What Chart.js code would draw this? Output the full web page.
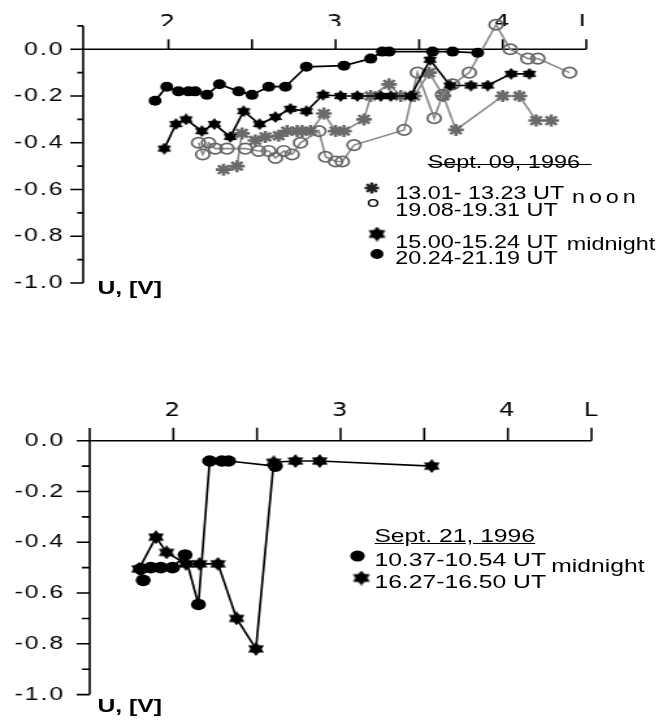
<!DOCTYPE html>
<html>
<head>
<meta charset="utf-8">
<script src="https://cdn.jsdelivr.net/npm/chart.js@4.4.0/dist/chart.umd.min.js"></script>
<style>
html, body { margin: 0; padding: 0; background: #fff; overflow: hidden; }
#wrap { position: absolute; left: 0; top: 0; width: 513px; height: 725px; transform: scaleX(1.3); transform-origin: 0 0; }
canvas { position: absolute; left: 0; }
.t { position: absolute; font-family: 'Liberation Sans', Arial, sans-serif; font-size: 18px; line-height: 18px; white-space: nowrap; color: #000; }
.b { font-size: 19px; line-height: 19px; }
.lab { font-weight: bold; font-size: 19px; }
</style>
</head>
<body>
<div id="wrap">
  <canvas id="topChart" width="513" height="320" style="top:0;width:513px;height:320px"></canvas>
  <canvas id="botChart" width="513" height="365" style="top:360px;width:513px;height:365px"></canvas>

  <div class="t lab" style="left:75px;top:279px">U, [V]</div>
  <div class="t" style="left:329px;top:153px">Sept. 09, 1996</div>
  <div style="position:absolute;left:329px;top:164px;width:126px;border-top:1.5px solid #000"></div>
  <div class="t" style="left:304px;top:184px">13.01- 13.23 UT</div>
  <div class="t" style="left:440px;top:188px;letter-spacing:3px">noon</div>
  <div class="t" style="left:304px;top:201px">19.08-19.31 UT</div>
  <div class="t" style="left:304px;top:233px">15.00-15.24 UT</div>
  <div class="t" style="left:436px;top:235px">midnight</div>
  <div class="t" style="left:304px;top:249px">20.24-21.19 UT</div>

  <div class="t lab" style="left:75px;top:697px">U, [V]</div>
  <div class="t b" style="left:288px;top:526px;text-decoration:underline">Sept. 21, 1996</div>
  <div class="t b" style="left:288px;top:550px">10.37-10.54 UT</div>
  <div class="t b" style="left:424px;top:556px">midnight</div>
  <div class="t b" style="left:288px;top:572px">16.27-16.50 UT</div>
</div>

<script>
// Sept. 09, 1996
let noonStarL = [2.33, 2.41, 2.44, 2.52, 2.58, 2.66, 2.71, 2.77, 2.80, 2.85, 2.93, 3.00, 3.05, 3.17, 3.21, 3.32, 3.39, 3.47, 3.56, 3.645, 3.72, 4.00, 4.10, 4.20, 4.29];
let noonStarU = [-0.515, -0.50, -0.36, -0.39, -0.375, -0.37, -0.35, -0.35, -0.35, -0.35, -0.275, -0.35, -0.35, -0.30, -0.20, -0.15, -0.20, -0.20, -0.10, -0.20, -0.345, -0.20, -0.20, -0.305, -0.305];

let noonCircL = [2.18, 2.205, 2.24, 2.28, 2.35, 2.46, 2.54, 2.60, 2.64, 2.69, 2.74, 2.79, 2.90, 2.94, 3.00, 3.04, 3.11, 3.41, 3.49, 3.59, 3.64, 3.70, 3.80, 3.96, 4.045, 4.15, 4.21, 4.40];
let noonCircU = [-0.40, -0.45, -0.40, -0.425, -0.425, -0.425, -0.435, -0.435, -0.465, -0.435, -0.45, -0.40, -0.35, -0.46, -0.48, -0.48, -0.41, -0.345, -0.10, -0.295, -0.195, -0.15, -0.10, 0.105, 0.0, -0.04, -0.04, -0.10];

let midStarL = [1.975, 2.045, 2.105, 2.20, 2.275, 2.37, 2.45, 2.545, 2.64, 2.73, 2.825, 2.925, 3.03, 3.13, 3.27, 3.33, 3.45, 3.565, 3.685, 3.81, 3.91, 4.05, 4.16];
let midStarU = [-0.425, -0.32, -0.30, -0.35, -0.32, -0.375, -0.265, -0.32, -0.29, -0.255, -0.265, -0.195, -0.20, -0.20, -0.20, -0.20, -0.20, -0.045, -0.155, -0.155, -0.155, -0.105, -0.105];

let midCircL = [1.92, 1.99, 2.06, 2.12, 2.16, 2.23, 2.305, 2.42, 2.50, 2.60, 2.70, 2.825, 3.05, 3.21, 3.28, 3.32, 3.58, 3.70, 3.85];
let midCircU = [-0.22, -0.16, -0.18, -0.18, -0.18, -0.195, -0.15, -0.18, -0.195, -0.16, -0.16, -0.075, -0.07, -0.04, -0.01, -0.01, -0.01, -0.01, -0.015];

// Sept. 21, 1996
let sep21CircL = [1.82, 1.805, 1.865, 1.925, 1.995, 2.07, 2.15, 2.217, 2.29, 2.33, 2.61];
let sep21CircU = [-0.55, -0.505, -0.50, -0.50, -0.50, -0.45, -0.645, -0.08, -0.08, -0.08, -0.10];

let sep21StarL = [1.795, 1.896, 1.96, 2.076, 2.157, 2.267, 2.378, 2.494, 2.60, 2.73, 2.875, 3.545];
let sep21StarU = [-0.505, -0.38, -0.44, -0.485, -0.485, -0.485, -0.70, -0.82, -0.085, -0.08, -0.08, -0.10];

let xTickLabels = { 2: "2", 3: "3", 4: "4", 4.5: "L" };

function pairs(L, U) {
    return L.map((l, i) => ({ x: l, y: U[i] }));
}

// filled six pointed star used as point style
function makeStar(size, color, inner) {
    let c = document.createElement("canvas");
    c.width = size;
    c.height = size;
    let g = c.getContext("2d");
    let r = size / 2;
    g.fillStyle = color;
    g.beginPath();
    for (let i = 0; i < 12; i++) {
        let a = -Math.PI / 2 + i * Math.PI / 6;
        let rr = i % 2 === 0 ? r : r * inner;
        g.lineTo(r + rr * Math.cos(a), r + rr * Math.sin(a));
    }
    g.closePath();
    g.fill();
    return c;
}

let starTop = makeStar(12, "#000", 0.64);
let starBot = makeStar(14, "#000", 0.62);
let starBig = makeStar(15, "#000", 0.62);

function axesPlugin(cfg) {
    return {
        id: "axes",
        beforeDraw(chart) {
            chart.ctx.letterSpacing = "1.5px";
        },
        beforeDatasetsDraw(chart) {
            let { ctx, chartArea, scales } = chart;
            let x = scales.x, y = scales.y;
            let y0 = y.getPixelForValue(0);
            ctx.save();
            ctx.letterSpacing = "0px";
            ctx.strokeStyle = "#000";
            ctx.lineWidth = 1.6;
            ctx.beginPath();
            ctx.moveTo(chartArea.left, chartArea.top);
            ctx.lineTo(chartArea.left, chartArea.bottom);
            ctx.moveTo(chartArea.left, y0);
            ctx.lineTo(chartArea.right, y0);
            x.ticks.forEach(t => {
                if (t.value < 1.9) return;
                let px = x.getPixelForValue(t.value);
                ctx.moveTo(px, y0);
                ctx.lineTo(px, y0 - cfg.xTick);
            });
            y.ticks.forEach(t => {
                let py = y.getPixelForValue(t.value);
                let major = Math.round(t.value * 10) % 2 === 0;
                ctx.moveTo(chartArea.left, py);
                ctx.lineTo(chartArea.left - (major ? cfg.yMajor : cfg.yMinor), py);
            });
            ctx.stroke();
            ctx.restore();
        },
        afterDatasetsDraw(chart) {
            chart.ctx.letterSpacing = "0px";
        },
        afterDraw(chart) {
            let ctx = chart.ctx;
            ctx.save();
            cfg.marks.forEach(m => {
                if (m.type === "asterisk") {
                    ctx.strokeStyle = "#222";
                    ctx.lineWidth = 2.4;
                    ctx.beginPath();
                    for (let i = 0; i < 4; i++) {
                        let a = i * Math.PI / 4;
                        ctx.moveTo(m.x - 5.5 * Math.cos(a), m.y - 5.5 * Math.sin(a));
                        ctx.lineTo(m.x + 5.5 * Math.cos(a), m.y + 5.5 * Math.sin(a));
                    }
                    ctx.stroke();
                } else if (m.type === "open") {
                    ctx.strokeStyle = "#000";
                    ctx.lineWidth = 1.4;
                    ctx.beginPath();
                    ctx.arc(m.x, m.y, m.r, 0, Math.PI * 2);
                    ctx.stroke();
                } else if (m.type === "dot") {
                    ctx.fillStyle = "#000";
                    ctx.beginPath();
                    ctx.arc(m.x, m.y, m.r, 0, Math.PI * 2);
                    ctx.fill();
                } else {
                    ctx.drawImage(starBig, m.x - starBig.width / 2, m.y - starBig.height / 2);
                }
            });
            ctx.restore();
        }
    };
}

function scalesFor(opts) {
    return {
        x: {
            type: "linear",
            position: "top",
            min: opts.xMin,
            max: 4.5,
            afterFit: s => { s.height = opts.top; },
            grid: { display: false, drawTicks: false },
            border: { display: false },
            ticks: {
                stepSize: 0.5,
                includeBounds: false,
                autoSkip: false,
                maxRotation: 0,
                padding: opts.xPad,
                color: "#000",
                font: { family: "DejaVu Sans", size: 19 },
                callback: v => xTickLabels[v] || ""
            }
        },
        y: {
            min: -1.0,
            max: opts.yMax,
            afterFit: s => { s.width = opts.left; },
            grid: { display: false, drawTicks: false },
            border: { display: false },
            ticks: {
                stepSize: 0.1,
                includeBounds: false,
                autoSkip: false,
                padding: opts.yPad,
                color: "#000",
                font: { family: "Liberation Sans", size: 19 },
                callback: v => {
                    let k = Math.round(v * 10);
                    if (k % 2 !== 0) return "";
                    return k === 0 ? "0.0" : (k / 10).toFixed(1);
                }
            }
        }
    };
}

let gray = "#6a6a6a";

new Chart(document.getElementById("topChart"), {
    type: "scatter",
    data: {
        datasets: [
            {
                data: pairs(noonStarL, noonStarU), showLine: true, order: 4, clip: false,
                borderColor: "#8a8a8a", borderWidth: 1.6,
                pointStyle: "star", pointRadius: 6, pointBorderWidth: 2.6,
                pointBorderColor: gray, pointBackgroundColor: gray
            },
            {
                data: pairs(noonCircL, noonCircU), showLine: true, order: 3, clip: false,
                borderColor: "#8a8a8a", borderWidth: 1.6,
                pointStyle: "circle", pointRadius: 5.2, pointBorderWidth: 1.7,
                pointBorderColor: "#666", pointBackgroundColor: "rgba(0,0,0,0)"
            },
            {
                data: pairs(midStarL, midStarU), showLine: true, order: 2, clip: false,
                borderColor: "#000", borderWidth: 1.7,
                pointStyle: starTop
            },
            {
                data: pairs(midCircL, midCircU), showLine: true, order: 1, clip: false,
                borderColor: "#000", borderWidth: 1.7,
                pointStyle: "circle", pointRadius: 5, pointBorderWidth: 0,
                pointBackgroundColor: "#000"
            }
        ]
    },
    options: {
        responsive: false,
        animation: false,
        layout: { padding: { left: 0, top: 0, right: 62, bottom: 37 } },
        plugins: { legend: { display: false }, tooltip: { enabled: false } },
        scales: scalesFor({ xMin: 1.49, yMax: 0.1, top: 23, left: 64, xPad: -9, yPad: 14.5 })
    },
    plugins: [axesPlugin({
        xTick: 10, yMajor: 10, yMinor: 4.6,
        marks: [
            { type: "asterisk", x: 286, y: 188 },
            { type: "open", x: 287, y: 203, r: 3.4 },
            { type: "star", x: 290, y: 234 },
            { type: "dot", x: 290, y: 254, r: 5 }
        ]
    })]
});

new Chart(document.getElementById("botChart"), {
    type: "scatter",
    data: {
        datasets: [
            {
                data: pairs(sep21CircL, sep21CircU), showLine: true, order: 1, clip: false,
                borderColor: "#000", borderWidth: 1.7,
                pointStyle: "circle", pointRadius: 5.8, pointBorderWidth: 0,
                pointBackgroundColor: "#000"
            },
            {
                data: pairs(sep21StarL, sep21StarU), showLine: true, order: 2, clip: false,
                borderColor: "#000", borderWidth: 1.7,
                pointStyle: starBot
            }
        ]
    },
    options: {
        responsive: false,
        animation: false,
        layout: { padding: { left: 0, top: 0, right: 58, bottom: 20 } },
        plugins: { legend: { display: false }, tooltip: { enabled: false } },
        scales: scalesFor({ xMin: 1.5, yMax: 0.05, top: 68, left: 69, xPad: 6, yPad: 19 })
    },
    plugins: [axesPlugin({
        xTick: 13, yMajor: 10, yMinor: 6,
        marks: [
            { type: "dot", x: 275, y: 196, r: 5.6 },
            { type: "star", x: 278, y: 218 }
        ]
    })]
});
</script>
</body>
</html>
